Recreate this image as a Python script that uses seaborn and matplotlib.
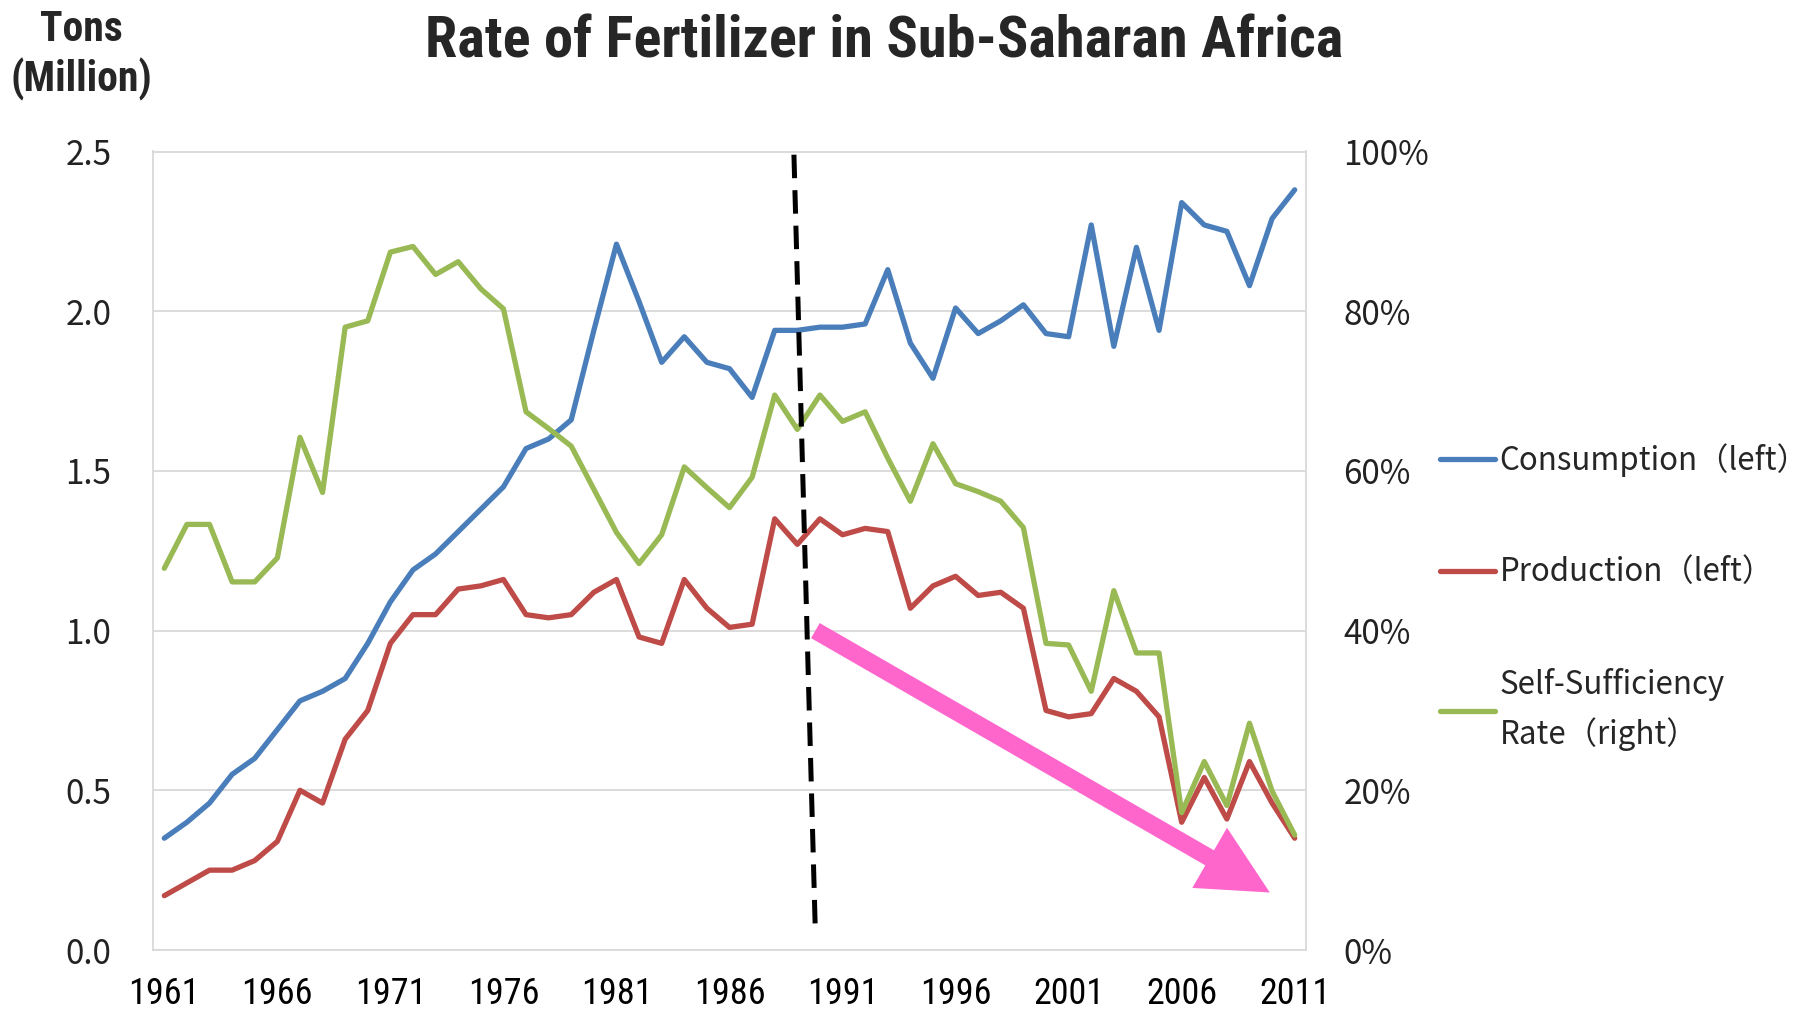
import numpy   as np
import pandas  as pd
import seaborn as sns

from matplotlib        import pyplot as plt
from matplotlib        import font_manager
from matplotlib.ticker import PercentFormatter, FormatStrFormatter, MultipleLocator

# ---- data --------------------------------------------------------------
years = np.arange(1961, 2012)

consumption = [0.35, 0.40, 0.46, 0.55, 0.60, 0.69, 0.78, 0.81, 0.85, 0.96,
               1.09, 1.19, 1.24, 1.31, 1.38, 1.45, 1.57, 1.60, 1.66, 1.94,
               2.21, 2.03, 1.84, 1.92, 1.84, 1.82, 1.73, 1.94, 1.94, 1.95,
               1.95, 1.96, 2.13, 1.90, 1.79, 2.01, 1.93, 1.97, 2.02, 1.93,
               1.92, 2.27, 1.89, 2.20, 1.94, 2.34, 2.27, 2.25, 2.08, 2.29,
               2.38]

production  = [0.17, 0.21, 0.25, 0.25, 0.28, 0.34, 0.50, 0.46, 0.66, 0.75,
               0.96, 1.05, 1.05, 1.13, 1.14, 1.16, 1.05, 1.04, 1.05, 1.12,
               1.16, 0.98, 0.96, 1.16, 1.07, 1.01, 1.02, 1.35, 1.27, 1.35,
               1.30, 1.32, 1.31, 1.07, 1.14, 1.17, 1.11, 1.12, 1.07, 0.75,
               0.73, 0.74, 0.85, 0.81, 0.73, 0.40, 0.54, 0.41, 0.59, 0.46,
               0.35]

# self-sufficiency rate, percent
self_sufficiency = [47.8, 53.3, 53.3, 46.1, 46.1, 49.1, 64.2, 57.3, 78.0, 78.8,
                    87.4, 88.1, 84.6, 86.2, 82.8, 80.3, 67.4, 65.3, 63.1, 57.7,
                    52.3, 48.4, 52.0, 60.5, 57.9, 55.4, 59.2, 69.5, 65.2, 69.5,
                    66.2, 67.4, 61.6, 56.2, 63.4, 58.4, 57.4, 56.2, 52.9, 38.4,
                    38.2, 32.4, 45.0, 37.2, 37.2, 17.2, 23.6, 18.1, 28.4, 19.9,
                    14.4]

xtick_years = [1961, 1966, 1971, 1976, 1981, 1986, 1991, 1996, 2001, 2006, 2011]

labels = ['Consumption（left）', 'Production（left）', 'Self-Sufficiency\nRate（right）']

# annotation guides (left-axis data units)
split_x = (1988.85, 1989.8)
split_y = (2.49, 0.05)
trend_from = (1989.8, 1.0)
trend_to   = (2009.9, 0.18)

BLUE, RED, GREEN, PINK = '#4A7EBB', '#BE4B48', '#98B954', '#FF66CC'
GRID = '#D9D9D9'
BODY = ['Noto Sans CJK JP', 'DejaVu Sans']

# pick a condensed face if one is installed
names = {f.name for f in font_manager.fontManager.ttflist}
cond  = [n for n in ['Liberation Sans Narrow', 'Roboto Condensed', 'DejaVu Sans Condensed',
                     'Open Sans Condensed', 'Noto Sans Condensed'] if n in names]
NARROW = cond + ['DejaVu Sans']

sns.set_theme(style="white")
plt.rcParams['font.family'] = BODY

df = pd.DataFrame({'year': years,
                   'consumption': consumption,
                   'production': production,
                   'rate': np.array(self_sufficiency) / 100.0})

fig = plt.figure(figsize=(18.17, 10.19), dpi=100)
ax  = fig.add_axes([153/1817, 1-950/1019, (1306-153)/1817, (950-151.5)/1019])
ax2 = ax.twinx()

sns.lineplot(data=df, x='year', y='consumption', color=BLUE,  lw=3.8, ax=ax,  label=labels[0], legend=False)
sns.lineplot(data=df, x='year', y='production',  color=RED,   lw=3.8, ax=ax,  label=labels[1], legend=False)
sns.lineplot(data=df, x='year', y='rate',        color=GREEN, lw=3.8, ax=ax2, label=labels[2], legend=False)

ax.set_xlim(1960.5, 2011.5)
ax.set_ylim(0, 2.5)
ax2.set_ylim(0, 1.0)
ax.set_xticks(xtick_years)
ax.yaxis.set_major_locator(MultipleLocator(0.5))
ax.yaxis.set_major_formatter(FormatStrFormatter('%.1f'))
ax2.yaxis.set_major_locator(MultipleLocator(0.2))
ax2.yaxis.set_major_formatter(PercentFormatter(1.0, decimals=0))
ax.set_xlabel('')
ax.set_ylabel('')
ax2.set_ylabel('')

ax.yaxis.grid(True, color=GRID, lw=1.3)
ax.xaxis.grid(False)
ax2.grid(False)
for s in ax.spines.values():
    s.set_color(GRID)
    s.set_linewidth(1.3)
for s in ax2.spines.values():
    s.set_visible(False)

ax.tick_params(axis='y', length=0, pad=30, labelsize=24, labelcolor='#222222')
ax2.tick_params(axis='y', length=0, pad=27, labelsize=24, labelcolor='#222222')
ax.tick_params(axis='x', length=0, pad=19, labelsize=26, labelcolor='black')
for t in ax.get_xticklabels():
    t.set_family(NARROW)
    t.set_stretch('condensed')

# dashed divider and pink trend arrow, over the lines
ax2.plot(split_x, split_y, transform=ax.transData, color='black', lw=3.6,
         linestyle=(0, (4.7, 2.4)), zorder=5)
ax2.annotate('', xy=trend_to, xytext=trend_from,
             xycoords=ax.transData, textcoords=ax.transData,
             arrowprops=dict(arrowstyle='simple,head_width=5.0,head_length=5.0,tail_width=1.25',
                             mutation_scale=10, color=PINK, lw=0, shrinkA=0, shrinkB=0),
             zorder=6)

# legend
handles = ax.get_lines()[:2] + ax2.get_lines()[:1]
leg = fig.legend(handles, labels, loc='upper left', bbox_to_anchor=(1440/1817, 1-443/1019),
                 frameon=False, fontsize=22.5, borderpad=0, borderaxespad=0,
                 handlelength=1.75, handletextpad=0.15, labelspacing=2.55)
for t in leg.get_texts():
    t.set_linespacing(1.62)

# titles
fig.text(884/1817, 1-42/1019, 'Rate of Fertilizer in Sub-Saharan Africa',
         ha='center', va='center', fontsize=42, fontweight='bold', family=NARROW,
         stretch='condensed')
fig.text(81/1817, 1-55/1019, 'Tons\n(Million)', ha='center', va='center',
         fontsize=30, fontweight='bold', family=NARROW, stretch='condensed',
         linespacing=1.25)

fig.savefig('out.png', dpi=100)
